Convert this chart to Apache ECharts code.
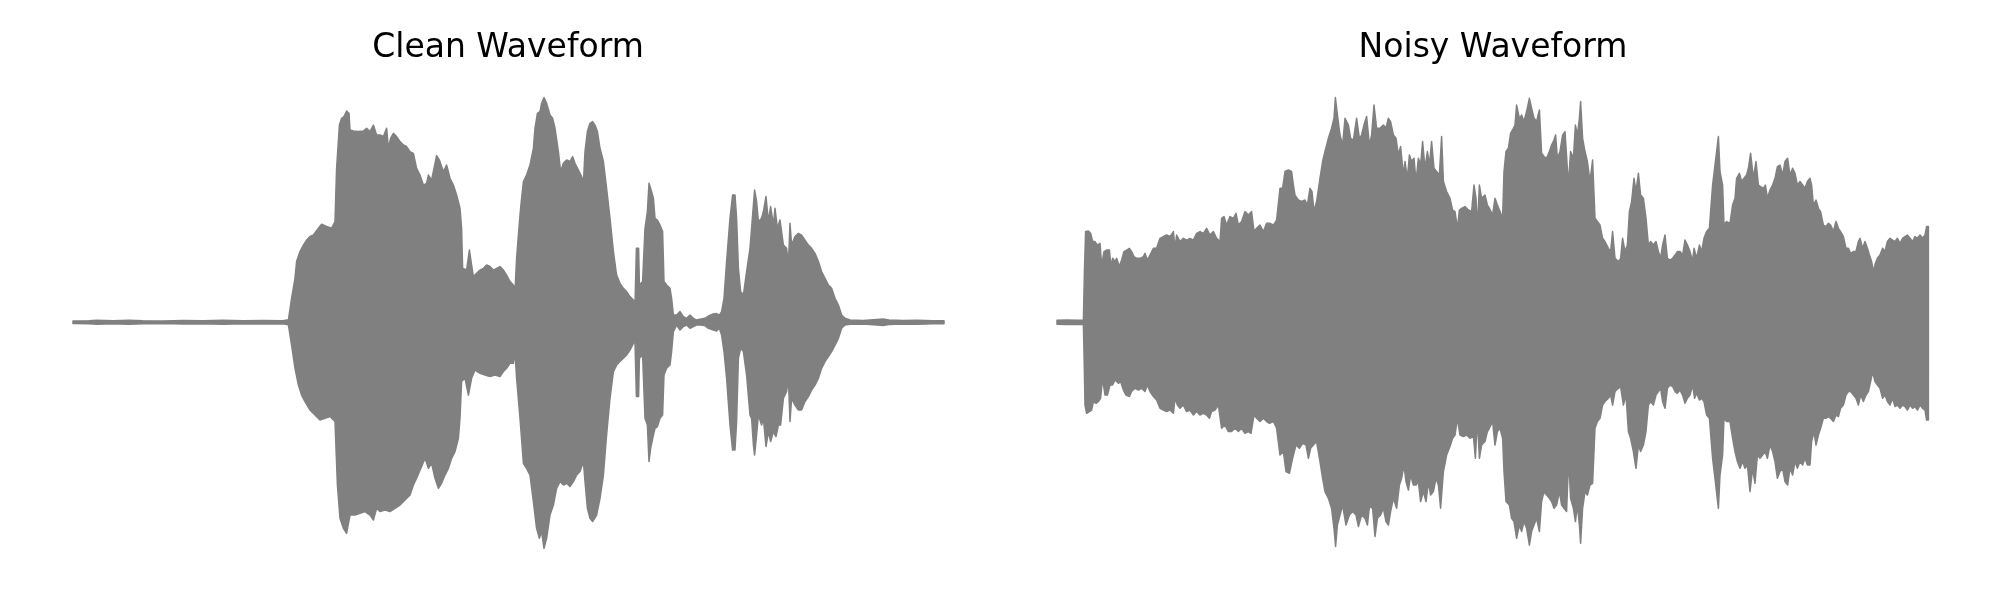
<!DOCTYPE html>
<html>
<head>
<meta charset="utf-8">
<script src="https://cdn.jsdelivr.net/npm/echarts@6/dist/echarts.min.js"></script>
<style>
html,body{margin:0;padding:0;background:#fff;}
#chart{width:2000px;height:600px;}
</style>
</head>
<body>
<div id="chart"></div>
<script>
// Titles
const titles = ["Clean Waveform", "Noisy Waveform"];

// Time span of each recording (seconds)
const cleanDuration = 4.355;
const noisyDuration = 4.36;

// Envelope of the clean waveform: [time (s), amplitude]
const cleanUpper = [[0,0.005],[0.08,0.006],[0.12,0.008],[0.2,0.006],[0.28,0.008],[0.35,0.006],[0.45,0.005],[0.55,0.007],[0.65,0.006],[0.75,0.008],[0.85,0.006],[0.95,0.007],[1.05,0.006],
[1.077,0.01],[1.093,0.096],[1.110,0.176],[1.118,0.243],[1.135,0.283],[1.152,0.309],[1.168,0.329],[1.185,0.343],[1.202,0.349],[1.227,0.376],[1.243,0.392],[1.268,0.383],[1.293,0.376],[1.310,0.403],[1.318,0.616],[1.332,0.789],[1.343,0.816],[1.355,0.823],[1.368,0.845],[1.380,0.836],[1.385,0.769],[1.402,0.765],[1.427,0.763],[1.452,0.765],[1.468,0.776],[1.485,0.763],[1.502,0.789],[1.518,0.749],[1.535,0.749],[1.552,0.743],[1.568,0.776],[1.577,0.696],[1.588,0.736],[1.602,0.756],[1.618,0.743],[1.635,0.723],[1.652,0.709],[1.668,0.703],[1.685,0.683],[1.702,0.676],[1.718,0.616],[1.735,0.589],[1.752,0.549],[1.768,0.556],[1.777,0.589],[1.793,0.569],[1.805,0.616],[1.818,0.667],[1.832,0.649],[1.843,0.623],[1.852,0.603],[1.868,0.629],[1.885,0.576],[1.902,0.549],[1.918,0.509],[1.935,0.456],[1.943,0.376],[1.948,0.216],[1.968,0.209],[1.982,0.289],[1.993,0.229],[2.002,0.183],[2.018,0.196],[2.035,0.209],[2.052,0.216],[2.068,0.229],[2.085,0.223],[2.102,0.209],[2.118,0.216],
[2.135,0.223],[2.152,0.209],[2.168,0.189],[2.185,0.163],[2.202,0.149],[2.210,0.123],[2.218,0.256],[2.227,0.349],[2.238,0.456],[2.252,0.563],[2.268,0.589],[2.285,0.629],[2.302,0.696],[2.310,0.776],[2.322,0.836],[2.335,0.843],[2.343,0.876],[2.355,0.899],[2.368,0.876],[2.385,0.829],[2.398,0.816],[2.410,0.776],[2.427,0.683],[2.438,0.603],[2.452,0.636],[2.468,0.649],[2.485,0.643],[2.498,0.663],[2.510,0.636],[2.527,0.609],[2.543,0.583],[2.552,0.556],[2.560,0.683],[2.572,0.763],[2.585,0.796],[2.598,0.803],[2.610,0.789],[2.622,0.763],[2.635,0.696],[2.652,0.643],[2.668,0.536],[2.685,0.416],[2.702,0.283],[2.718,0.189],[2.735,0.156],[2.752,0.136],[2.768,0.123],[2.785,0.103],[2.802,0.089],[2.810,0.069],[2.817,0.296],[2.828,0.296],[2.832,0.149],[2.848,0.163],[2.860,0.376],[2.872,0.443],[2.880,0.556],[2.888,0.536],[2.902,0.496],[2.910,0.416],[2.922,0.409],[2.935,0.389],[2.948,0.363],[2.955,0.163],[2.968,0.149],[2.985,0.136],[2.993,0.096],[3.002,0.029],[3.018,0.029],[3.035,0.043],[3.052,0.023],[3.068,0.016],[3.085,0.029],[3.102,0.016],[3.118,0.009],[3.135,0.012],[3.160,0.016],[3.177,0.025],[3.202,0.033],[3.218,0.035],[3.232,0.029],
[3.243,0.043],[3.255,0.096],[3.268,0.243],[3.285,0.416],[3.298,0.509],[3.310,0.509],[3.318,0.416],[3.327,0.216],[3.338,0.123],[3.352,0.109],[3.368,0.203],[3.385,0.296],[3.393,0.376],[3.402,0.469],[3.408,0.529],[3.418,0.483],[3.427,0.403],[3.443,0.416],[3.452,0.443],[3.465,0.503],[3.477,0.403],[3.488,0.463],[3.502,0.389],[3.510,0.456],[3.522,0.376],[3.535,0.409],[3.552,0.309],[3.568,0.296],[3.577,0.229],[3.585,0.396],[3.593,0.309],[3.610,0.343],[3.627,0.356],[3.643,0.349],[3.660,0.329],[3.677,0.309],[3.693,0.296],[3.710,0.276],[3.727,0.243],[3.743,0.203],[3.760,0.176],[3.777,0.149],[3.793,0.136],[3.810,0.096],[3.827,0.069],[3.843,0.029],[3.860,0.016],[3.885,0.009],[3.95,0.007],[4.02,0.011],[4.05,0.013],[4.08,0.009],[4.15,0.007],[4.22,0.008],[4.3,0.006],[4.355,0.006]];

const cleanLower = [[0,-0.005],[0.08,-0.006],[0.12,-0.008],[0.2,-0.006],[0.28,-0.008],[0.35,-0.006],[0.45,-0.005],[0.55,-0.007],[0.65,-0.006],[0.75,-0.008],[0.85,-0.006],[0.95,-0.007],[1.05,-0.006],
[1.077,-0.01],[1.093,-0.091],[1.110,-0.184],[1.127,-0.251],[1.143,-0.291],[1.160,-0.317],[1.185,-0.351],[1.210,-0.371],[1.235,-0.391],[1.260,-0.384],[1.285,-0.377],[1.310,-0.397],[1.322,-0.651],[1.335,-0.784],[1.352,-0.824],[1.368,-0.844],[1.385,-0.771],[1.410,-0.771],[1.435,-0.764],[1.460,-0.757],[1.485,-0.771],[1.502,-0.791],[1.518,-0.744],[1.535,-0.757],[1.560,-0.751],[1.585,-0.757],[1.610,-0.744],[1.635,-0.731],[1.660,-0.711],[1.685,-0.691],[1.702,-0.651],[1.718,-0.624],[1.743,-0.577],[1.760,-0.544],[1.777,-0.584],[1.793,-0.564],[1.810,-0.624],[1.827,-0.664],[1.843,-0.644],[1.860,-0.611],[1.877,-0.584],[1.893,-0.544],[1.910,-0.517],[1.927,-0.464],[1.935,-0.384],[1.943,-0.237],[1.960,-0.224],[1.977,-0.291],[1.993,-0.224],[2.010,-0.191],[2.035,-0.204],[2.060,-0.211],[2.085,-0.217],[2.110,-0.211],
[2.135,-0.217],[2.152,-0.197],[2.168,-0.184],[2.185,-0.164],[2.202,-0.164],[2.210,-0.117],[2.218,-0.224],[2.235,-0.384],[2.252,-0.564],[2.268,-0.584],[2.285,-0.611],[2.302,-0.717],[2.318,-0.824],[2.332,-0.864],[2.343,-0.837],[2.355,-0.904],[2.368,-0.864],[2.385,-0.771],[2.402,-0.731],[2.418,-0.664],[2.435,-0.637],[2.452,-0.651],[2.468,-0.644],[2.485,-0.657],[2.502,-0.637],[2.518,-0.611],[2.535,-0.597],[2.552,-0.557],[2.560,-0.637],[2.572,-0.744],[2.585,-0.784],[2.598,-0.797],[2.618,-0.771],[2.635,-0.704],[2.652,-0.611],[2.668,-0.451],[2.685,-0.304],[2.702,-0.197],[2.718,-0.171],[2.735,-0.157],[2.752,-0.144],[2.768,-0.131],[2.785,-0.111],[2.802,-0.084],[2.810,-0.077],[2.817,-0.297],[2.828,-0.297],[2.832,-0.144],[2.848,-0.131],[2.860,-0.384],[2.872,-0.411],[2.880,-0.557],[2.888,-0.504],[2.902,-0.451],[2.910,-0.424],[2.922,-0.417],[2.935,-0.384],[2.948,-0.371],[2.955,-0.211],[2.968,-0.184],[2.985,-0.171],[2.993,-0.117],[3.002,-0.037],[3.018,-0.011],[3.035,-0.031],[3.052,-0.017],[3.068,-0.011],[3.085,-0.024],[3.102,-0.017],[3.118,-0.011],[3.135,-0.011],[3.160,-0.013],[3.177,-0.024],[3.202,-0.031],[3.218,-0.035],[3.232,-0.024],
[3.243,-0.051],[3.255,-0.117],[3.268,-0.224],[3.285,-0.411],[3.298,-0.511],[3.310,-0.511],[3.318,-0.397],[3.327,-0.144],[3.338,-0.104],[3.352,-0.117],[3.368,-0.211],[3.385,-0.371],[3.393,-0.384],[3.402,-0.491],[3.408,-0.531],[3.418,-0.451],[3.427,-0.371],[3.443,-0.411],[3.452,-0.384],[3.465,-0.497],[3.477,-0.437],[3.488,-0.477],[3.502,-0.437],[3.515,-0.457],[3.527,-0.411],[3.538,-0.411],[3.552,-0.304],[3.568,-0.277],[3.577,-0.224],[3.585,-0.397],[3.593,-0.304],[3.610,-0.331],[3.627,-0.351],[3.643,-0.351],[3.660,-0.317],[3.677,-0.297],[3.693,-0.271],[3.710,-0.251],[3.727,-0.224],[3.743,-0.184],[3.760,-0.157],[3.777,-0.137],[3.793,-0.117],[3.810,-0.091],[3.827,-0.064],[3.843,-0.024],[3.860,-0.011],[3.885,-0.008],[3.95,-0.007],[4.02,-0.011],[4.05,-0.013],[4.08,-0.009],[4.15,-0.007],[4.22,-0.008],[4.3,-0.006],[4.355,-0.006]];

// Envelope of the noisy waveform: [time (s), amplitude]
const noisyUpper = [[0,0.008],[0.05,0.009],[0.1,0.008],[0.132,0.009],[0.137,0.2],[0.143,0.363],[0.157,0.365],[0.168,0.356],[0.178,0.323],[0.190,0.323],[0.202,0.309],[0.215,0.316],[0.223,0.229],[0.235,0.283],[0.248,0.289],[0.262,0.289],[0.270,0.223],[0.278,0.256],[0.290,0.243],[0.298,0.256],[0.312,0.223],[0.323,0.249],[0.335,0.283],[0.348,0.289],[0.362,0.296],[0.373,0.283],[0.385,0.263],[0.398,0.256],[0.415,0.256],[0.432,0.263],[0.440,0.276],[0.452,0.249],[0.465,0.269],[0.482,0.296],[0.498,0.296],[0.515,0.336],[0.532,0.343],[0.548,0.349],[0.565,0.343],[0.582,0.363],[0.590,0.296],[0.598,0.349],[0.615,0.323],[0.632,0.336],[0.648,0.329],[0.665,0.336],[0.682,0.329],[0.698,0.356],[0.715,0.363],[0.732,0.356],[0.748,0.376],[0.765,0.349],[0.782,0.363],[0.798,0.336],[0.815,0.323],[0.823,0.416],[0.835,0.423],[0.848,0.389],[0.865,0.423],[0.882,0.416],[0.895,0.436],[0.907,0.389],[0.923,0.403],[0.940,0.443],[0.957,0.429],[0.973,0.443],[0.985,0.363],[0.998,0.376],[1.015,0.389],[1.032,0.363],[1.048,0.396],[1.062,0.396],
[1.082,0.389],[1.098,0.409],[1.115,0.536],[1.128,0.536],[1.140,0.603],[1.157,0.609],[1.173,0.603],[1.182,0.549],[1.190,0.509],[1.207,0.489],[1.223,0.483],[1.240,0.489],[1.252,0.469],[1.265,0.536],[1.275,0.523],[1.285,0.443],[1.298,0.483],[1.315,0.576],[1.328,0.643],[1.340,0.683],[1.357,0.736],[1.373,0.776],[1.385,0.816],[1.392,0.899],[1.402,0.829],[1.415,0.749],[1.428,0.709],[1.440,0.816],[1.457,0.789],[1.468,0.736],[1.482,0.729],[1.498,0.816],[1.512,0.736],[1.523,0.749],[1.535,0.789],[1.548,0.823],[1.562,0.709],[1.573,0.749],[1.585,0.869],[1.598,0.776],[1.615,0.776],[1.632,0.789],[1.645,0.776],[1.657,0.816],[1.668,0.803],[1.682,0.749],[1.695,0.736],[1.707,0.669],[1.718,0.703],[1.732,0.589],[1.740,0.643],[1.752,0.576],[1.762,0.669],[1.773,0.643],[1.785,0.656],[1.795,0.563],[1.807,0.656],[1.818,0.629],[1.828,0.723],[1.840,0.616],[1.852,0.683],[1.862,0.629],[1.873,0.723],[1.885,0.616],[1.898,0.603],[1.912,0.589],[1.923,0.743],[1.932,0.563],[1.948,0.523],[1.965,0.496],[1.978,0.449],[1.990,0.443],[2.002,0.376],[2.012,0.449],[2.023,0.456],[2.040,0.463],[2.057,0.449],[2.073,0.443],[2.085,0.549],[2.095,0.496],[2.102,0.376],[2.112,0.549],[2.123,0.496],[2.140,0.509],[2.152,0.469],[2.162,0.456],
[2.178,0.429],[2.190,0.496],[2.202,0.469],[2.215,0.443],[2.228,0.416],[2.235,0.603],[2.245,0.683],[2.257,0.696],[2.268,0.756],[2.282,0.776],[2.290,0.789],[2.298,0.869],[2.312,0.816],[2.323,0.829],[2.335,0.803],[2.348,0.843],[2.362,0.896],[2.373,0.856],[2.385,0.816],[2.398,0.803],[2.412,0.849],[2.423,0.676],[2.435,0.663],[2.448,0.656],[2.462,0.683],[2.473,0.709],[2.485,0.729],[2.493,0.749],[2.502,0.656],[2.515,0.683],[2.528,0.749],[2.540,0.763],[2.557,0.549],[2.568,0.683],[2.582,0.656],[2.592,0.789],[2.602,0.749],[2.612,0.816],[2.618,0.883],[2.628,0.736],[2.640,0.683],[2.652,0.643],[2.665,0.563],[2.678,0.649],[2.690,0.416],[2.702,0.403],[2.715,0.389],[2.728,0.336],[2.740,0.323],[2.757,0.296],[2.768,0.283],[2.778,0.363],[2.790,0.256],[2.807,0.243],[2.818,0.256],[2.828,0.336],[2.840,0.283],[2.852,0.309],[2.862,0.443],[2.873,0.483],[2.885,0.576],[2.895,0.523],[2.907,0.596],[2.918,0.509],[2.932,0.496],[2.945,0.416],[2.957,0.309],[2.968,0.323],[2.982,0.309],[2.995,0.323],[3.007,0.283],[3.018,0.256],[3.028,0.309],[3.040,0.349],[3.052,0.256],[3.065,0.249],[3.078,0.256],[3.090,0.269],[3.102,0.283],[3.115,0.283],[3.128,0.269],[3.140,0.329],[3.152,0.309],[3.165,0.283],[3.178,0.243],[3.185,0.296],[3.198,0.256],[3.212,0.309],[3.223,0.283],[3.235,0.336],[3.248,0.363],[3.262,0.376],
[3.278,0.549],[3.290,0.629],[3.307,0.743],[3.315,0.603],[3.328,0.549],[3.335,0.389],[3.348,0.403],[3.365,0.396],[3.378,0.469],[3.390,0.496],[3.398,0.576],[3.412,0.596],[3.423,0.563],[3.435,0.576],[3.448,0.589],[3.457,0.616],[3.468,0.676],[3.482,0.576],[3.495,0.643],[3.507,0.549],[3.518,0.543],[3.532,0.536],[3.542,0.549],[3.552,0.496],[3.565,0.529],[3.578,0.549],[3.590,0.576],[3.602,0.623],[3.615,0.629],[3.628,0.589],[3.640,0.643],[3.653,0.656],[3.665,0.589],[3.678,0.616],[3.690,0.596],[3.702,0.549],[3.715,0.563],[3.728,0.549],[3.740,0.536],[3.752,0.563],[3.765,0.576],[3.773,0.549],[3.782,0.469],[3.795,0.489],[3.807,0.456],[3.818,0.443],[3.832,0.389],[3.845,0.383],[3.857,0.396],[3.868,0.389],[3.882,0.363],[3.895,0.403],[3.907,0.376],[3.918,0.363],[3.932,0.343],[3.945,0.296],[3.957,0.296],[3.968,0.276],[3.982,0.283],[3.995,0.283],[4.007,0.323],[4.015,0.336],[4.028,0.296],[4.040,0.323],[4.052,0.296],[4.062,0.269],[4.073,0.243],[4.082,0.203],[4.092,0.236],[4.102,0.256],[4.115,0.269],[4.128,0.296],[4.140,0.283],[4.152,0.323],[4.165,0.336],[4.178,0.329],[4.190,0.323],[4.202,0.336],[4.215,0.316],[4.228,0.336],[4.240,0.343],[4.252,0.349],[4.265,0.336],[4.278,0.323],[4.290,0.343],[4.302,0.336],[4.315,0.349],[4.328,0.336],[4.340,0.349],[4.348,0.383],[4.357,0.383]];

const noisyLower = [[0,-0.008],[0.05,-0.009],[0.1,-0.008],[0.132,-0.009],[0.137,-0.2],[0.140,-0.331],[0.148,-0.364],[0.162,-0.357],[0.173,-0.351],[0.182,-0.317],[0.195,-0.324],[0.207,-0.317],[0.218,-0.304],[0.228,-0.224],[0.240,-0.291],[0.252,-0.291],[0.265,-0.251],[0.278,-0.251],[0.290,-0.231],[0.307,-0.244],[0.318,-0.237],[0.332,-0.271],[0.345,-0.291],[0.362,-0.297],[0.373,-0.277],[0.390,-0.264],[0.407,-0.271],[0.423,-0.264],[0.440,-0.277],[0.452,-0.251],[0.465,-0.277],[0.482,-0.297],[0.498,-0.311],[0.515,-0.344],[0.532,-0.351],[0.548,-0.357],[0.565,-0.351],[0.582,-0.364],[0.590,-0.304],[0.602,-0.331],[0.615,-0.344],[0.632,-0.331],[0.648,-0.357],[0.665,-0.351],[0.682,-0.371],[0.698,-0.357],[0.715,-0.371],[0.732,-0.364],[0.748,-0.371],[0.762,-0.384],[0.773,-0.357],[0.790,-0.351],[0.807,-0.331],[0.823,-0.424],[0.840,-0.411],[0.857,-0.437],[0.873,-0.437],[0.890,-0.424],[0.907,-0.437],[0.923,-0.424],[0.940,-0.444],[0.957,-0.437],[0.970,-0.444],[0.985,-0.371],[0.998,-0.384],[1.015,-0.397],[1.032,-0.384],[1.048,-0.397],[1.062,-0.404],
[1.082,-0.397],[1.098,-0.424],[1.115,-0.531],[1.132,-0.517],[1.145,-0.597],[1.162,-0.604],[1.178,-0.544],[1.195,-0.491],[1.212,-0.504],[1.228,-0.484],[1.245,-0.491],[1.257,-0.544],[1.268,-0.504],[1.282,-0.491],[1.298,-0.477],[1.315,-0.557],[1.328,-0.624],[1.340,-0.677],[1.357,-0.704],[1.373,-0.744],[1.385,-0.824],[1.393,-0.897],[1.402,-0.811],[1.415,-0.771],[1.428,-0.731],[1.445,-0.811],[1.462,-0.771],[1.478,-0.757],[1.495,-0.771],[1.507,-0.817],[1.523,-0.771],[1.540,-0.784],[1.552,-0.811],[1.562,-0.737],[1.578,-0.744],[1.590,-0.857],[1.602,-0.784],[1.618,-0.771],[1.632,-0.744],[1.645,-0.797],[1.657,-0.811],[1.668,-0.757],[1.682,-0.704],[1.698,-0.744],[1.712,-0.651],[1.723,-0.624],[1.735,-0.571],[1.745,-0.637],[1.757,-0.671],[1.768,-0.611],[1.782,-0.651],[1.795,-0.651],[1.807,-0.637],[1.818,-0.717],[1.832,-0.677],[1.845,-0.717],[1.857,-0.637],[1.868,-0.691],[1.882,-0.677],[1.895,-0.624],[1.907,-0.651],[1.918,-0.744],[1.932,-0.597],[1.948,-0.531],[1.965,-0.497],[1.978,-0.464],[1.990,-0.451],[2.002,-0.384],[2.015,-0.451],[2.032,-0.457],[2.048,-0.451],[2.065,-0.464],[2.082,-0.457],[2.092,-0.544],[2.102,-0.384],[2.112,-0.544],[2.123,-0.491],[2.140,-0.477],[2.152,-0.437],[2.162,-0.424],
[2.178,-0.397],[2.190,-0.491],[2.202,-0.437],[2.215,-0.424],[2.228,-0.464],[2.235,-0.597],[2.245,-0.717],[2.262,-0.731],[2.273,-0.784],[2.285,-0.797],[2.298,-0.864],[2.312,-0.811],[2.323,-0.837],[2.335,-0.797],[2.348,-0.824],[2.362,-0.891],[2.373,-0.837],[2.385,-0.811],[2.398,-0.784],[2.412,-0.837],[2.423,-0.717],[2.435,-0.677],[2.448,-0.691],[2.462,-0.704],[2.473,-0.717],[2.485,-0.744],[2.498,-0.731],[2.512,-0.677],[2.523,-0.731],[2.535,-0.744],[2.548,-0.757],[2.558,-0.544],[2.568,-0.704],[2.582,-0.744],[2.592,-0.797],[2.602,-0.731],[2.612,-0.811],[2.618,-0.884],[2.628,-0.744],[2.640,-0.677],[2.652,-0.691],[2.665,-0.651],[2.678,-0.644],[2.690,-0.424],[2.702,-0.397],[2.715,-0.384],[2.728,-0.331],[2.740,-0.317],[2.757,-0.304],[2.768,-0.291],[2.778,-0.331],[2.790,-0.277],[2.807,-0.264],[2.818,-0.257],[2.832,-0.331],[2.845,-0.291],[2.857,-0.437],[2.868,-0.464],[2.882,-0.517],[2.895,-0.584],[2.907,-0.491],[2.918,-0.517],[2.932,-0.491],[2.945,-0.437],[2.957,-0.331],[2.968,-0.317],[2.982,-0.331],[2.995,-0.291],[3.007,-0.277],[3.018,-0.264],[3.028,-0.317],[3.040,-0.344],[3.052,-0.264],[3.065,-0.251],[3.078,-0.257],[3.090,-0.277],[3.102,-0.284],[3.115,-0.271],[3.128,-0.291],[3.140,-0.324],[3.152,-0.304],[3.165,-0.291],[3.178,-0.251],[3.188,-0.304],[3.198,-0.284],[3.212,-0.311],[3.223,-0.304],[3.235,-0.317],[3.248,-0.371],[3.262,-0.384],
[3.278,-0.544],[3.290,-0.624],[3.307,-0.744],[3.315,-0.611],[3.328,-0.531],[3.335,-0.384],[3.348,-0.397],[3.365,-0.397],[3.378,-0.464],[3.390,-0.517],[3.402,-0.557],[3.415,-0.584],[3.428,-0.557],[3.440,-0.584],[3.452,-0.571],[3.465,-0.677],[3.478,-0.584],[3.490,-0.644],[3.502,-0.531],[3.515,-0.544],[3.528,-0.531],[3.540,-0.517],[3.552,-0.544],[3.565,-0.491],[3.578,-0.517],[3.590,-0.557],[3.602,-0.624],[3.615,-0.597],[3.628,-0.584],[3.640,-0.637],[3.653,-0.651],[3.665,-0.584],[3.678,-0.611],[3.690,-0.557],[3.702,-0.584],[3.715,-0.557],[3.728,-0.571],[3.740,-0.544],[3.752,-0.571],[3.765,-0.571],[3.773,-0.477],[3.785,-0.437],[3.795,-0.491],[3.807,-0.451],[3.818,-0.424],[3.832,-0.384],[3.845,-0.384],[3.857,-0.377],[3.868,-0.384],[3.882,-0.397],[3.895,-0.371],[3.907,-0.377],[3.918,-0.344],[3.932,-0.331],[3.945,-0.291],[3.957,-0.277],[3.968,-0.277],[3.982,-0.291],[3.995,-0.304],[4.007,-0.331],[4.018,-0.291],[4.032,-0.317],[4.045,-0.291],[4.057,-0.277],[4.068,-0.237],[4.078,-0.197],[4.090,-0.237],[4.102,-0.251],[4.115,-0.264],[4.128,-0.304],[4.140,-0.291],[4.152,-0.317],[4.165,-0.331],[4.178,-0.304],[4.190,-0.337],[4.202,-0.331],[4.215,-0.344],[4.228,-0.331],[4.240,-0.337],[4.252,-0.351],[4.265,-0.331],[4.278,-0.344],[4.290,-0.337],[4.302,-0.351],[4.315,-0.331],[4.328,-0.344],[4.340,-0.351],[4.348,-0.391],[4.357,-0.391]];

const GRAY = '#808080';
const chart = echarts.init(document.getElementById('chart'), null, {renderer: 'canvas'});

// One filled polygon per waveform: the upper envelope, then the lower one reversed,
// both mapped to pixels through the axes with api.coord.
function envSeries(idx, upper, lower) {
  return {
    type: 'custom', xAxisIndex: idx, yAxisIndex: idx, silent: true,
    data: [[upper[0][0], 0]],
    renderItem: function (params, api) {
      const pts = upper.map(p => api.coord(p))
        .concat(lower.slice().reverse().map(p => api.coord(p)));
      return {
        type: 'polygon',
        shape: {points: pts},
        style: {fill: GRAY, stroke: GRAY, lineWidth: 1.5, lineJoin: 'round'}
      };
    }
  };
}

const option = {
  animation: false,
  backgroundColor: '#ffffff',
  title: [
    {text: titles[0], left: 508, top: 28.5, textAlign: 'center', padding: 0,
     textStyle: {fontFamily: 'DejaVu Sans', fontSize: 33, fontWeight: 'normal', color: '#000', lineHeight: 40}},
    {text: titles[1], left: 1493, top: 28.5, textAlign: 'center', padding: 0,
     textStyle: {fontFamily: 'DejaVu Sans', fontSize: 33, fontWeight: 'normal', color: '#000', lineHeight: 40}}
  ],
  grid: [
    {left: 73, width: 871, top: 72.3, bottom: 27.7},
    {left: 1057, width: 872, top: 72.3, bottom: 27.7}
  ],
  xAxis: [
    {type: 'value', gridIndex: 0, min: 0, max: cleanDuration, show: false},
    {type: 'value', gridIndex: 1, min: 0, max: noisyDuration, show: false}
  ],
  yAxis: [
    {type: 'value', gridIndex: 0, min: -1, max: 1, show: false},
    {type: 'value', gridIndex: 1, min: -1, max: 1, show: false}
  ],
  series: [envSeries(0, cleanUpper, cleanLower), envSeries(1, noisyUpper, noisyLower)]
};
chart.setOption(option);
</script>
</body>
</html>
